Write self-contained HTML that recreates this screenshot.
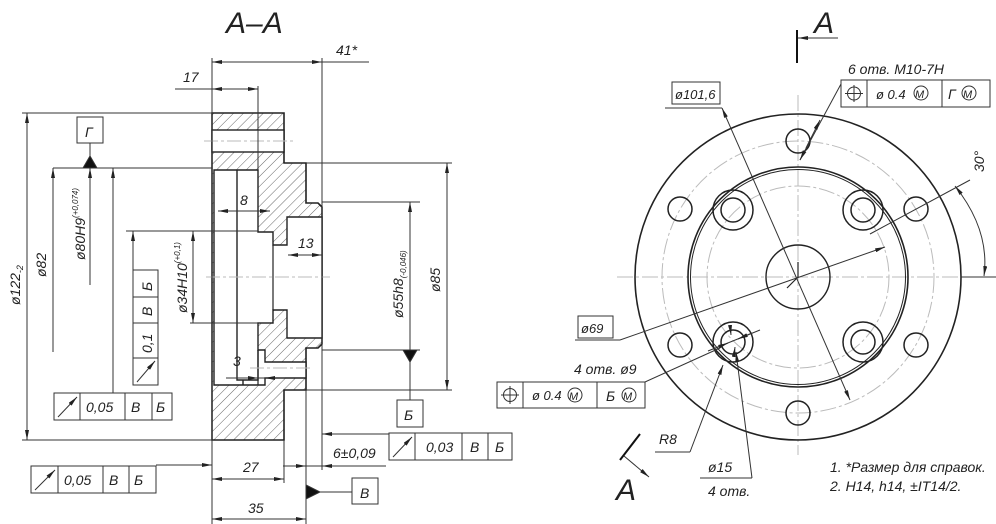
<!DOCTYPE html>
<html><head><meta charset="utf-8"><style>
html,body{margin:0;padding:0;background:#fff}
svg{display:block}
text{font-family:"Liberation Sans",sans-serif;font-style:italic;fill:#222}
</style></head><body>
<svg width="996" height="524" viewBox="0 0 996 524" xmlns="http://www.w3.org/2000/svg">
<defs>
<pattern id="h" width="7" height="7" patternUnits="userSpaceOnUse" patternTransform="rotate(45)">
<line x1="0" y1="0" x2="0" y2="7" stroke="#555" stroke-width="0.9"/></pattern>
<marker id="a" viewBox="0 0 10 4" refX="10" refY="2" markerWidth="10" markerHeight="4" orient="auto-start-reverse" markerUnits="userSpaceOnUse">
<path d="M0,0 L10,2 L0,4z" fill="#222"/></marker>
</defs>
<g fill="none" stroke="#333" stroke-width="1">
<!-- section body -->
<path d="M212,113H284V163H306V203H318L322,207V344L318,348H306V390H284V440H212Z" fill="url(#h)" stroke="#222" stroke-width="1.6"/>
<rect x="212" y="130" width="72" height="22" fill="#fff" stroke="#222" stroke-width="1.4"/>
<path d="M214,170H258V232H273V245H287V217H322V338H287V310H273V323H258V350H265V362H306V378H265V385H214Z" fill="#fff" stroke="#222" stroke-width="1.4"/>
<path d="M237,170V380H243V385M243,380H258V350" stroke="#222" stroke-width="1.4"/>
<line x1="258" y1="350" x2="258" y2="385" stroke="#222" stroke-width="1.2"/>
<line x1="273" y1="245" x2="273" y2="310" stroke="#222" stroke-width="1.2"/>
<g stroke="#bbb" stroke-dasharray="14,3,3,3"><line x1="204" y1="141" x2="293" y2="141"/><line x1="206" y1="277" x2="330" y2="277"/><line x1="250" y1="368" x2="312" y2="368"/></g>
<!-- extension lines -->
<line x1="212" y1="58" x2="212" y2="524"/>
<line x1="322" y1="58" x2="322" y2="470"/>
<line x1="258" y1="86" x2="258" y2="170"/>
<line x1="175" y1="89" x2="258" y2="89"/>
<line x1="212" y1="62" x2="369" y2="62"/>
<line x1="212" y1="62" x2="322" y2="62" marker-start="url(#a)" marker-end="url(#a)"/>
<line x1="212" y1="89" x2="258" y2="89" marker-start="url(#a)" marker-end="url(#a)"/>
<line x1="22" y1="113" x2="212" y2="113"/><line x1="22" y1="440" x2="212" y2="440"/>
<line x1="27" y1="113" x2="27" y2="440" marker-start="url(#a)" marker-end="url(#a)"/>
<line x1="53" y1="168" x2="212" y2="168"/>
<line x1="53" y1="168" x2="53" y2="352" marker-start="url(#a)"/>
<line x1="90" y1="168" x2="90" y2="285" marker-start="url(#a)"/>
<path d="M83,168L90,156L97,168Z" fill="#111"/>
<line x1="90" y1="143" x2="90" y2="156"/>
<rect x="77" y="117" width="26" height="26"/>
<line x1="113" y1="168" x2="113" y2="393" marker-start="url(#a)"/>
<line x1="126" y1="231" x2="258" y2="231"/><line x1="190" y1="323" x2="270" y2="323"/>
<line x1="193" y1="231" x2="193" y2="323" marker-start="url(#a)" marker-end="url(#a)"/>
<line x1="133" y1="231" x2="133" y2="270" marker-start="url(#a)"/>
<!-- vertical frame 0.1 -->
<rect x="133" y="270" width="25" height="115"/>
<line x1="133" y1="297" x2="158" y2="297"/><line x1="133" y1="323" x2="158" y2="323"/><line x1="133" y1="358" x2="158" y2="358"/>
<line x1="137" y1="382" x2="155" y2="361" marker-end="url(#a)"/>
<!-- frame 0.05 top -->
<rect x="54" y="393" width="118" height="27"/>
<line x1="80" y1="393" x2="80" y2="420"/><line x1="125" y1="393" x2="125" y2="420"/><line x1="152" y1="393" x2="152" y2="420"/>
<line x1="58" y1="417" x2="77" y2="397" marker-end="url(#a)"/>
<!-- inner dims -->
<line x1="218" y1="211" x2="270" y2="211" marker-start="url(#a)" marker-end="url(#a)"/>
<line x1="288" y1="255" x2="322" y2="255" marker-start="url(#a)" marker-end="url(#a)"/>
<line x1="226" y1="378" x2="285" y2="378"/>
<line x1="245" y1="378" x2="258" y2="378" marker-end="url(#a)"/>
<line x1="280" y1="378" x2="265" y2="378" marker-end="url(#a)"/>
<!-- right dims -->
<line x1="322" y1="202" x2="420" y2="202"/><line x1="322" y1="350" x2="420" y2="350"/>
<line x1="410" y1="202" x2="410" y2="350" marker-start="url(#a)"/>
<path d="M403,350L410,362L417,350Z" fill="#111"/>
<line x1="410" y1="362" x2="410" y2="400"/>
<rect x="397" y="400" width="26" height="27"/>
<line x1="306" y1="163" x2="452" y2="163"/><line x1="306" y1="390" x2="452" y2="390"/>
<line x1="447" y1="163" x2="447" y2="390" marker-start="url(#a)" marker-end="url(#a)"/>
<line x1="284" y1="440" x2="284" y2="483"/><line x1="306" y1="390" x2="306" y2="524"/>
<line x1="389" y1="434" x2="322" y2="434" marker-end="url(#a)"/>
<rect x="389" y="433" width="123" height="27"/>
<line x1="415" y1="433" x2="415" y2="460"/><line x1="462" y1="433" x2="462" y2="460"/><line x1="488" y1="433" x2="488" y2="460"/>
<line x1="393" y1="457" x2="412" y2="437" marker-end="url(#a)"/>
<line x1="283" y1="466" x2="386" y2="466"/>
<line x1="290" y1="466" x2="306" y2="466" marker-end="url(#a)"/>
<line x1="340" y1="466" x2="322" y2="466" marker-end="url(#a)"/>
<!-- frame 0.05 bottom -->
<rect x="31" y="466" width="125" height="27"/>
<line x1="58" y1="466" x2="58" y2="493"/><line x1="103" y1="466" x2="103" y2="493"/><line x1="129" y1="466" x2="129" y2="493"/>
<line x1="35" y1="490" x2="55" y2="470" marker-end="url(#a)"/>
<line x1="156" y1="465" x2="212" y2="465" marker-end="url(#a)"/>
<line x1="212" y1="479" x2="284" y2="479" marker-start="url(#a)" marker-end="url(#a)"/>
<line x1="212" y1="519" x2="306" y2="519" marker-start="url(#a)" marker-end="url(#a)"/>
<path d="M306,485L320,492L306,499Z" fill="#111"/>
<line x1="320" y1="492" x2="352" y2="492"/>
<rect x="352" y="478" width="26" height="26"/>

<!-- RIGHT VIEW -->
<g stroke="#bbb" stroke-dasharray="16,3,3,3">
<line x1="617" y1="277" x2="996" y2="277"/><line x1="798" y1="95" x2="798" y2="455"/>
<circle cx="798" cy="277" r="136"/><circle cx="798" cy="277" r="91"/>
</g>
<circle cx="798" cy="277" r="163" stroke="#222" stroke-width="1.6"/>
<circle cx="798" cy="277" r="110" stroke="#222" stroke-width="1.6"/>
<circle cx="798" cy="277" r="107.5" stroke="#222" stroke-width="1"/>
<circle cx="798" cy="277" r="32" stroke="#222" stroke-width="1.4"/>
<g stroke="#222" stroke-width="1.5">
<circle cx="798" cy="141" r="12"/><circle cx="916" cy="209" r="12"/><circle cx="916" cy="345" r="12"/>
<circle cx="798" cy="413" r="12"/><circle cx="680" cy="345" r="12"/><circle cx="680" cy="209" r="12"/>
<circle cx="733" cy="210" r="20"/><circle cx="733" cy="210" r="12"/>
<circle cx="863" cy="210" r="20"/><circle cx="863" cy="210" r="12"/>
<circle cx="733" cy="342" r="20"/><circle cx="733" cy="342" r="12"/>
<circle cx="863" cy="342" r="20"/><circle cx="863" cy="342" r="12"/>
</g>
<path d="M798,277V262M798,277L787,288" stroke="#222" stroke-width="1.2"/>
<!-- leaders -->
<line x1="665" y1="108" x2="722" y2="108"/>
<line x1="722" y1="108" x2="850" y2="400" marker-start="url(#a)" marker-end="url(#a)"/>
<rect x="672" y="82" width="48" height="22"/>
<line x1="575" y1="340" x2="620" y2="340"/>
<line x1="620" y1="340" x2="885" y2="247" marker-end="url(#a)"/>
<line x1="722" y1="304" x2="668" y2="306" stroke="none"/>
<rect x="578" y="316" width="35" height="22"/>
<line x1="841" y1="84" x2="800" y2="160"/>
<line x1="812" y1="137" x2="800" y2="160" marker-end="url(#a)"/>
<line x1="820" y1="120" x2="806" y2="148" marker-end="url(#a)" transform="rotate(180 813 134)"/>
<rect x="841" y="80" width="149" height="27"/>
<line x1="867" y1="80" x2="867" y2="107"/><line x1="942" y1="80" x2="942" y2="107"/>
<circle cx="854" cy="93.5" r="6.5"/><line x1="845" y1="93.5" x2="863" y2="93.5"/><line x1="854" y1="85" x2="854" y2="102"/>
<circle cx="921" cy="93" r="7"/><circle cx="969" cy="93" r="7"/>
<!-- 4 otv 9 -->
<rect x="497" y="382" width="148" height="26"/>
<line x1="523" y1="382" x2="523" y2="408"/><line x1="597" y1="382" x2="597" y2="408"/>
<circle cx="510" cy="395" r="6.5"/><line x1="501" y1="395" x2="519" y2="395"/><line x1="510" y1="386" x2="510" y2="404"/>
<circle cx="575" cy="395" r="7"/><circle cx="629" cy="395" r="7"/>
<line x1="645" y1="382" x2="720" y2="348"/>
<line x1="708" y1="351" x2="760" y2="330"/>
<line x1="752" y1="333" x2="738" y2="339" marker-end="url(#a)"/>
<line x1="716" y1="348" x2="728" y2="343" marker-end="url(#a)"/>
<line x1="730" y1="325" x2="731" y2="335" marker-end="url(#a)"/>
<line x1="734" y1="355" x2="735" y2="347" marker-end="url(#a)"/>
<line x1="655" y1="452" x2="690" y2="452"/>
<line x1="690" y1="452" x2="723" y2="365" marker-end="url(#a)"/>
<line x1="700" y1="478" x2="752" y2="478"/>
<line x1="752" y1="478" x2="736" y2="352" marker-end="url(#a)"/>
<!-- 30 deg -->
<line x1="870" y1="234" x2="970" y2="180"/>
<line x1="961" y1="277" x2="996" y2="277"/>
<path d="M955,186 Q990,230 984,276" marker-start="url(#a)" marker-end="url(#a)"/>
<!-- section marks -->
<line x1="797" y1="30" x2="797" y2="63" stroke="#111" stroke-width="2"/>
<line x1="838" y1="38" x2="798" y2="38" marker-end="url(#a)"/>
<line x1="640" y1="434" x2="620" y2="460" stroke="#111" stroke-width="2"/>
<line x1="650" y1="478" x2="625" y2="457" marker-end="url(#a)" transform="rotate(180 637 467)"/>
</g>
<g font-size="14">
<text x="226" y="33" font-size="30">A–A</text>
<text x="336" y="55">41*</text>
<text x="183" y="82">17</text>
<text x="240" y="205">8</text>
<text x="298" y="248">13</text>
<text x="233" y="366">3</text>
<text x="85" y="137">Г</text>
<text x="404" y="420">Б</text>
<text x="360" y="498">В</text>
<text x="243" y="472">27</text>
<text x="248" y="513">35</text>
<text x="333" y="458">6±0,09</text>
<text x="426" y="452">0,03</text>
<text x="470" y="452">В</text>
<text x="495" y="452">Б</text>
<text x="86" y="412">0,05</text>
<text x="131" y="412">В</text>
<text x="156" y="412">Б</text>
<text x="64" y="485">0,05</text>
<text x="109" y="485">В</text>
<text x="134" y="485">Б</text>
<text transform="translate(152,291) rotate(-90)">Б</text>
<text transform="translate(152,316) rotate(-90)">В</text>
<text transform="translate(152,353) rotate(-90)">0,1</text>
<text transform="translate(20,305) rotate(-90)">ø122<tspan font-size="9" dy="3">-2</tspan></text>
<text transform="translate(46,277) rotate(-90)">ø82</text>
<text transform="translate(85,260) rotate(-90)">ø80H9<tspan font-size="8" dy="-7">(+0,074)</tspan></text>
<text transform="translate(187,313) rotate(-90)">ø34H10<tspan font-size="8" dy="-7">(+0,1)</tspan></text>
<text transform="translate(403,318) rotate(-90)">ø55h8<tspan font-size="8" dy="3">(-0,046)</tspan></text>
<text transform="translate(440,292) rotate(-90)">ø85</text>
<text x="675" y="99" font-size="13">ø101,6</text>
<text x="581" y="333" font-size="13">ø69</text>
<text x="848" y="74">6 отв. M10-7H</text>
<text x="876" y="99" font-size="13">ø 0.4</text>
<text x="915" y="98" font-size="11">M</text>
<text x="948" y="99">Г</text>
<text x="963" y="98" font-size="11">M</text>
<text x="574" y="374">4 отв. ø9</text>
<text x="532" y="400" font-size="13">ø 0.4</text>
<text x="569" y="400" font-size="11">M</text>
<text x="606" y="401">Б</text>
<text x="623" y="400" font-size="11">M</text>
<text x="659" y="444">R8</text>
<text x="708" y="472">ø15</text>
<text x="708" y="496">4 отв.</text>
<text transform="translate(984,172) rotate(-90)">30°</text>
<text x="814" y="33" font-size="30">A</text>
<text x="616" y="500" font-size="30">A</text>
<text x="830" y="472">1. *Размер для справок.</text>
<text x="830" y="491">2. H14, h14, ±IT14/2.</text>
</g>
</svg>
</body></html>
